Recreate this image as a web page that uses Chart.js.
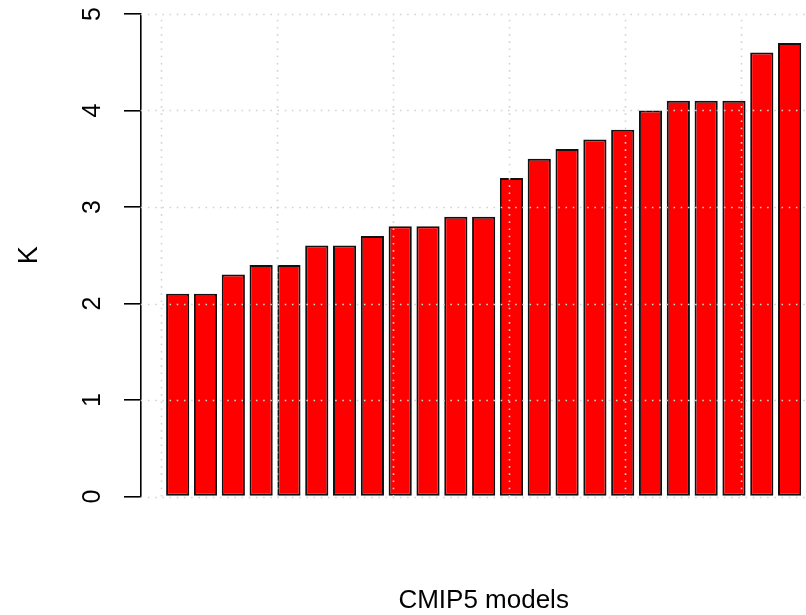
<!DOCTYPE html>
<html><head><meta charset="utf-8">
<script src="https://cdn.jsdelivr.net/npm/chart.js@4/dist/chart.umd.min.js"></script>
<style>
html,body{margin:0;padding:0;overflow:hidden;background:#fff;width:806px;height:615px}
#wrap{position:absolute;left:0;top:0;width:828px;height:615px}
</style>
</head><body>
<div id="wrap"><canvas id="c" width="828" height="615"></canvas></div>
<script>
// ---- data ----
const categories = ["1","2","3","4","5","6","7","8","9","10","11","12","13","14","15","16","17","18","19","20","21","22","23"];
const values = [2.1, 2.1, 2.3, 2.4, 2.4, 2.6, 2.6, 2.7, 2.8, 2.8, 2.9, 2.9, 3.3, 3.5, 3.6, 3.7, 3.8, 4.0, 4.1, 4.1, 4.1, 4.6, 4.7];
const yTicks = [0, 1, 2, 3, 4, 5];
const xGridTicks = [0, 5, 10, 15, 20, 25];
const xTitle = "CMIP5 models";
const yTitle = "K";

// R barplot layout: width 1, space 0.2 -> bar centers at 0.7 + 1.2*i
const barData = values.map((v, i) => ({ x: 0.7 + 1.2 * i, y: v, label: categories[i] }));

const FONT = "'Liberation Sans', Arial, Helvetica, sans-serif";

const gridOnTop = {
  id: 'gridOnTop',
  afterDatasetsDraw(chart) {
    const { ctx, chartArea, scales } = chart;
    const xs = scales.x, ys = scales.y;
    ctx.save();
    ctx.strokeStyle = '#d3d3d3';
    ctx.lineWidth = 1.6;
    ctx.setLineDash([1.6, 5.6]);
    const yTop = ys.getPixelForValue(yTicks[yTicks.length - 1]);
    const yBot = ys.getPixelForValue(yTicks[0]);
    xGridTicks.forEach(t => {
      const px = Math.round(xs.getPixelForValue(t)) + 0.5;
      ctx.beginPath(); ctx.moveTo(px, yBot); ctx.lineTo(px, yTop); ctx.stroke();
    });
    yTicks.forEach(t => {
      const py = Math.round(ys.getPixelForValue(t)) + 0.5;
      ctx.beginPath(); ctx.moveTo(chartArea.left, py); ctx.lineTo(chartArea.right, py); ctx.stroke();
    });
    ctx.restore();
  },
  afterDraw(chart) {
    // R-style y tick labels, rotated (las = 0) and centred on each tick
    const { ctx, scales } = chart;
    const ys = scales.y;
    ctx.save();
    ctx.fillStyle = '#000';
    ctx.font = "25px " + FONT;
    ctx.textAlign = 'center';
    ctx.textBaseline = 'middle';
    ys.ticks.forEach(t => {
      const py = ys.getPixelForValue(t.value);
      ctx.save();
      ctx.translate(93, py);
      ctx.rotate(-Math.PI / 2);
      ctx.fillText(String(t.value), 0, 0);
      ctx.restore();
    });
    ctx.restore();
  }
};

new Chart(document.getElementById('c'), {
  type: 'bar',
  data: {
    datasets: [{
      data: barData,
      backgroundColor: '#ff0000',
      borderColor: '#111111',
      borderWidth: 2,
      borderSkipped: false,
      barPercentage: 1 / 1.2,
      categoryPercentage: 1
    }]
  },
  options: {
    responsive: false,
    animation: false,
    devicePixelRatio: 1,
    layout: { padding: { top: 14, right: 1.4, left: 0, bottom: 0 } },
    plugins: { legend: { display: false }, tooltip: { enabled: false } },
    scales: {
      x: {
        type: 'linear',
        offset: false,
        min: -0.896,
        max: 28.696,
        ticks: { display: false },
        grid: { display: false },
        border: { display: false },
        title: { display: true, text: xTitle, color: '#000', font: { family: FONT, size: 26, lineHeight: 1 }, padding: { top: 0, bottom: 1 } },
        afterFit(scale) { scale.height = 118.5; scale.paddingLeft = 0; scale.paddingRight = 0; }
      },
      y: {
        min: 0,
        max: 5,
        afterBuildTicks(scale) { scale.ticks = yTicks.map(v => ({ value: v })); },
        ticks: { display: false },
        grid: { drawOnChartArea: false, drawTicks: true, tickLength: 16.7, color: '#000', lineWidth: 1.6 },
        border: { display: true, color: '#000', width: 1.6 },
        title: { display: true, text: yTitle, color: '#000', font: { family: FONT, size: 27, lineHeight: 1 }, padding: { top: 16, bottom: 0 } },
        afterFit(scale) { scale.width = 140.7; scale.paddingTop = 0; scale.paddingBottom = 0; }
      }
    }
  },
  plugins: [gridOnTop]
});
</script>
</body></html>
